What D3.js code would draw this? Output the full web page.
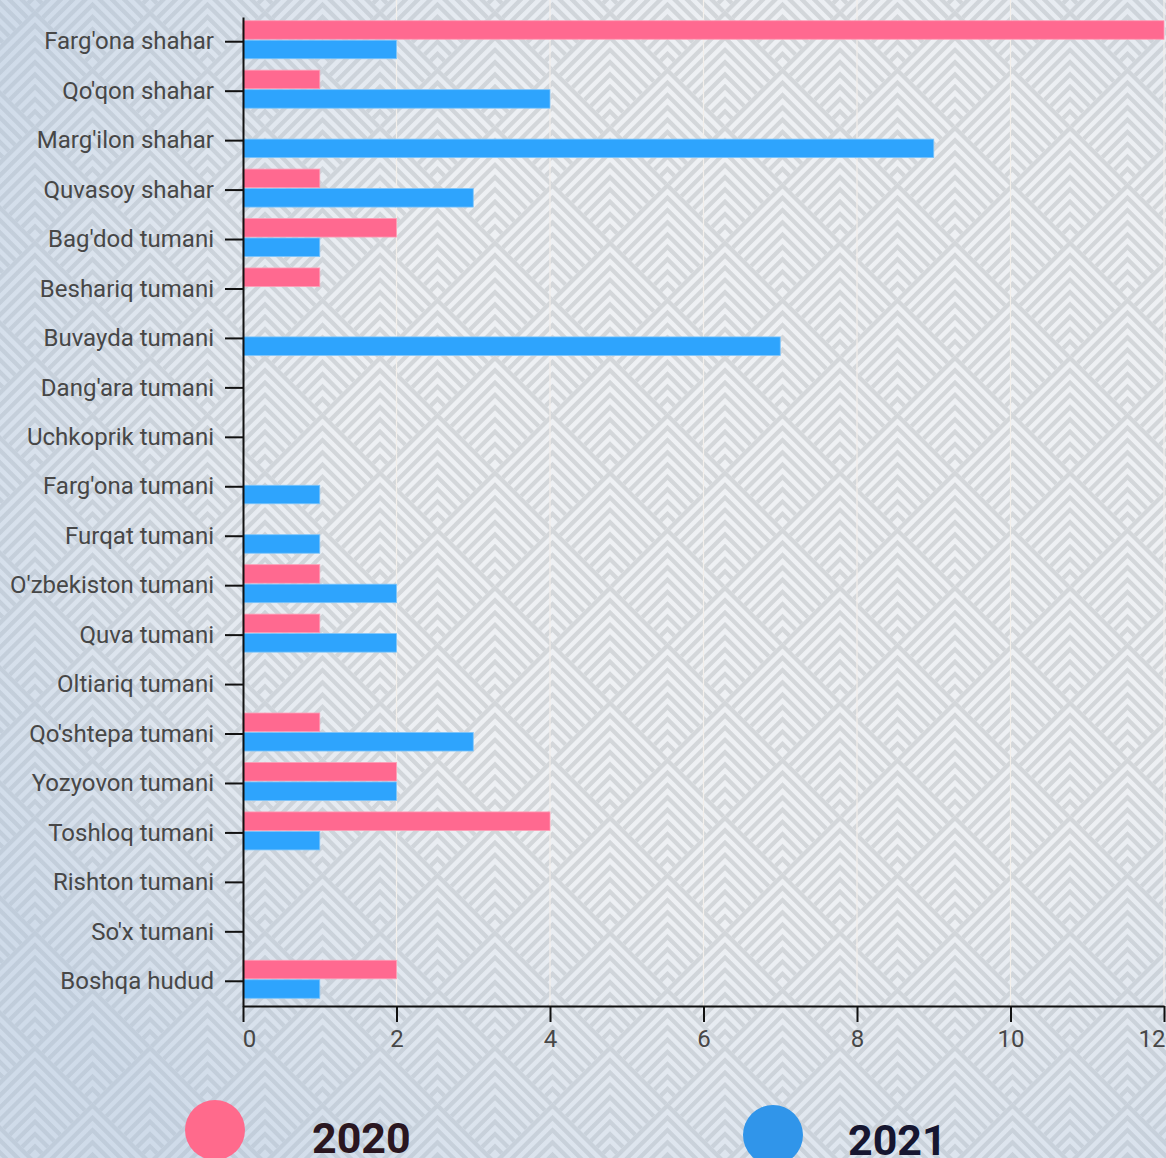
<!DOCTYPE html>
<html lang="en">
<head>
    <meta charset="UTF-8">
    <title>Hududlar 2020-2021</title>
    <style>
        body { margin: 0; overflow: hidden; }
        text { font-family: Roboto, "Noto Sans", sans-serif; }
    </style>
    <script src="https://d3js.org/d3.v7.min.js"></script>
</head>
<body>
<script>
// data
const regions = ["Farg'ona shahar", "Qo'qon shahar", "Marg'ilon shahar", "Quvasoy shahar",
    "Bag'dod tumani", "Beshariq tumani", "Buvayda tumani", "Dang'ara tumani", "Uchkoprik tumani",
    "Farg'ona tumani", "Furqat tumani", "O'zbekiston tumani", "Quva tumani", "Oltiariq tumani",
    "Qo'shtepa tumani", "Yozyovon tumani", "Toshloq tumani", "Rishton tumani", "So'x tumani",
    "Boshqa hudud"];
const years = ["2020", "2021"];
const values2020 = [12, 1, 0, 1, 2, 1, 0, 0, 0, 0, 0, 1, 1, 0, 1, 2, 4, 0, 0, 2];
const values2021 = [2, 4, 9, 3, 1, 0, 7, 0, 0, 1, 1, 2, 2, 0, 3, 2, 1, 0, 0, 1];
const xTicks = [0, 2, 4, 6, 8, 10, 12];

const W = 1166, H = 1158;
const barColor = {"2020": "#ff6990", "2021": "#2ea4fd"};
const barEdge = {"2020": "#ff9cb5", "2021": "#7cc4fb"};
const dotColor = {"2020": "#ff6a8c", "2021": "#3095ea"};
const legendText = {"2020": "#2a1620", "2021": "#161630"};

var svg = d3.select("body").append("svg")
    .attr("width", W)
    .attr("height", H);

// background: diamonds filled with nested chevrons
var defs = svg.append("defs");
const T = 115, h = T / 2, gap = 12.3;
var pat = defs.append("pattern")
    .attr("id", "chev")
    .attr("patternUnits", "userSpaceOnUse")
    .attr("x", 35).attr("y", 10)
    .attr("width", T).attr("height", T);
pat.append("rect").attr("width", T).attr("height", T).attr("fill", "#eff1f4");
const apexes = [[h, -h], [0, 0], [T, 0], [h, h], [0, T], [T, T]];
apexes.forEach(function (p) {
    var g = pat.append("g").attr("transform", "translate(" + p[0] + "," + p[1] + ")");
    for (var a = 3; a < T - 6; a += gap) {
        var dx = (T - a) / 2;
        g.append("path")
            .attr("d", "M" + (-dx) + "," + (a + dx) + " L0," + a + " L" + dx + "," + (a + dx))
            .attr("fill", "none")
            .attr("stroke", "#d4d7da")
            .attr("stroke-width", 4.2);
    }
});

// bluish tint towards the edges
var grad = defs.append("radialGradient")
    .attr("id", "tint")
    .attr("gradientUnits", "userSpaceOnUse")
    .attr("cx", 800).attr("cy", 480).attr("r", 900);
grad.append("stop").attr("offset", "0%").attr("stop-color", "#a8c0dc").attr("stop-opacity", 0);
grad.append("stop").attr("offset", "50%").attr("stop-color", "#a8c0dc").attr("stop-opacity", 0.02);
grad.append("stop").attr("offset", "100%").attr("stop-color", "#a8c0dc").attr("stop-opacity", 0.45);

svg.append("rect").attr("width", W).attr("height", H).attr("fill", "url(#chev)");
svg.append("rect").attr("width", W).attr("height", H).attr("fill", "url(#tint)");

// scales
const x = d3.scaleLinear().domain([0, 12]).range([243, 1164]);
const y = d3.scaleBand().domain(regions).range([17, 1006]);
const yInner = d3.scaleBand().domain(years).range([-21, 17]).paddingInner(0.05);

// faint grid
svg.append("g").selectAll("line")
    .data(xTicks.slice(1))
    .enter().append("line")
    .attr("x1", d => x(d)).attr("x2", d => x(d))
    .attr("y1", 0).attr("y2", 1006)
    .attr("stroke", "#f3efeb")
    .attr("stroke-width", 1.2);

// bars
var rows = regions.map(function (r, i) {
    return {region: r, vals: [{year: "2020", v: values2020[i]}, {year: "2021", v: values2021[i]}]};
});
var groups = svg.append("g").selectAll("g")
    .data(rows)
    .enter().append("g")
    .attr("transform", d => "translate(0," + (y(d.region) + y.bandwidth() / 2) + ")");
groups.selectAll("rect")
    .data(d => d.vals.filter(e => e.v > 0))
    .enter().append("rect")
    .attr("x", x(0))
    .attr("y", d => yInner(d.year))
    .attr("width", d => x(d.v) - x(0))
    .attr("height", yInner.bandwidth())
    .attr("fill", d => barColor[d.year])
    .attr("stroke", d => barEdge[d.year])
    .attr("stroke-width", 0.8);

// axes
var yAxis = svg.append("g")
    .attr("transform", "translate(" + x(0) + ",0)")
    .call(d3.axisLeft(y).tickSize(18).tickSizeOuter(0).tickPadding(11));
var xAxis = svg.append("g")
    .attr("transform", "translate(0,1006)")
    .call(d3.axisBottom(x).tickValues(xTicks).tickSize(16).tickSizeOuter(0).tickPadding(8));

[yAxis, xAxis].forEach(function (ax) {
    ax.select(".domain").attr("stroke", "#111").attr("stroke-width", 2);
    ax.selectAll(".tick line").attr("stroke", "#111").attr("stroke-width", 2);
    ax.selectAll("text")
        .style("font-family", "Roboto, sans-serif")
        .style("font-size", "24px")
        .attr("fill", "#474747");
});
// first and last x labels are pushed inside the picture
xAxis.selectAll(".tick text")
    .filter(d => d === 0).attr("dx", 6);
xAxis.selectAll(".tick text")
    .filter(d => d === 12).attr("text-anchor", "end").attr("dx", 1);

// legend
var legend = svg.append("g").selectAll("g")
    .data(years)
    .enter().append("g")
    .attr("transform", (d, i) => "translate(" + [215, 773][i] + "," + [1130, 1135][i] + ")");
legend.append("circle")
    .attr("r", 30)
    .attr("fill", d => dotColor[d]);
legend.append("text")
    .attr("x", (d, i) => [97, 75][i])
    .attr("y", (d, i) => [23, 20][i])
    .text(d => d)
    .style("font-size", "43px")
    .style("font-weight", "bold")
    .attr("fill", d => legendText[d]);
</script>
</body>
</html>
